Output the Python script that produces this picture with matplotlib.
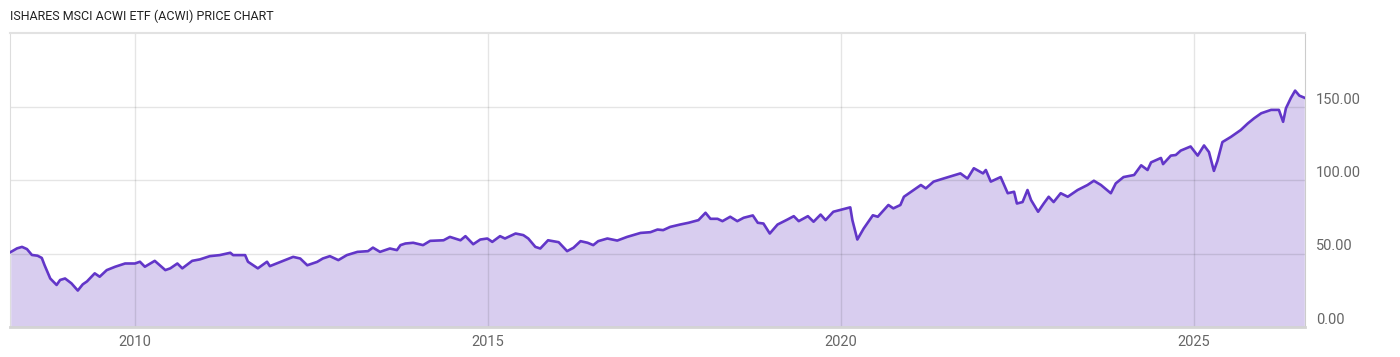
import matplotlib.pyplot as plt

# ACWI price (fractional year, price)
dates = [
    2008.24, 2008.33, 2008.40, 2008.47, 2008.54, 2008.62, 2008.68, 2008.72, 2008.80, 2008.84,
    2008.89, 2008.94, 2009.01, 2009.10, 2009.19, 2009.26, 2009.32, 2009.43, 2009.50, 2009.60,
    2009.72, 2009.86, 2010.00, 2010.07, 2010.14, 2010.28, 2010.43, 2010.50, 2010.60, 2010.67,
    2010.81, 2010.92, 2011.06, 2011.20, 2011.35, 2011.39, 2011.56, 2011.60, 2011.74, 2011.87,
    2011.91, 2012.06, 2012.24, 2012.34, 2012.44, 2012.58, 2012.66, 2012.76, 2012.88, 2013.00,
    2013.15, 2013.30, 2013.37, 2013.47, 2013.61, 2013.71, 2013.76, 2013.83, 2013.94, 2014.08,
    2014.18, 2014.37, 2014.46, 2014.61, 2014.68, 2014.79, 2014.89, 2014.99, 2015.06, 2015.17,
    2015.24, 2015.39, 2015.50, 2015.57, 2015.67, 2015.74, 2015.85, 2015.92, 2016.00, 2016.12,
    2016.21, 2016.31, 2016.41, 2016.49, 2016.56, 2016.69, 2016.83, 2016.97, 2017.16, 2017.30,
    2017.40, 2017.48, 2017.58, 2017.72, 2017.84, 2017.98, 2018.08, 2018.15, 2018.25, 2018.32,
    2018.43, 2018.53, 2018.62, 2018.75, 2018.82, 2018.90, 2018.99, 2019.10, 2019.24, 2019.33,
    2019.40, 2019.53, 2019.61, 2019.71, 2019.78, 2019.89, 2020.13, 2020.16, 2020.23, 2020.32,
    2020.45, 2020.52, 2020.67, 2020.74, 2020.84, 2020.89, 2021.13, 2021.20, 2021.31, 2021.45,
    2021.69, 2021.79, 2021.88, 2022.01, 2022.05, 2022.12, 2022.26, 2022.36, 2022.45, 2022.49,
    2022.57, 2022.64, 2022.69, 2022.79, 2022.87, 2022.94, 2023.01, 2023.11, 2023.21, 2023.35,
    2023.49, 2023.58, 2023.68, 2023.82, 2023.89, 2024.00, 2024.15, 2024.25, 2024.34, 2024.39,
    2024.53, 2024.56, 2024.67, 2024.74, 2024.81, 2024.95, 2025.05, 2025.14, 2025.21, 2025.28,
    2025.33, 2025.40, 2025.52, 2025.66, 2025.76, 2025.85, 2025.95, 2026.09, 2026.20, 2026.26,
    2026.30, 2026.37, 2026.43, 2026.49, 2026.56,
]
prices = [
    51.0, 53.5, 54.5, 53.0, 49.0, 48.5, 47.0, 42.0, 33.0, 31.0,
    28.6, 32.0, 33.0, 29.7, 24.8, 29.0, 31.0, 36.5, 34.2, 38.7,
    41.0, 43.2, 43.2, 44.4, 41.0, 45.0, 38.7, 39.9, 43.2, 39.9,
    45.0, 46.0, 48.2, 48.9, 50.5, 48.9, 48.9, 44.4, 39.9, 44.4,
    41.4, 44.3, 47.7, 46.6, 42.0, 44.3, 46.6, 48.2, 45.5, 48.9,
    51.1, 51.6, 54.0, 51.1, 53.4, 52.3, 55.7, 56.8, 57.3, 55.7,
    58.6, 59.0, 61.3, 59.0, 61.8, 56.3, 59.5, 60.2, 57.9, 61.8,
    60.2, 63.6, 62.5, 60.2, 54.5, 53.4, 59.0, 58.4, 57.7, 51.6,
    53.9, 58.4, 57.3, 55.7, 58.4, 60.2, 58.8, 61.3, 64.0, 64.5,
    66.3, 65.9, 68.1, 69.7, 70.9, 72.7, 77.7, 73.6, 73.6, 72.0,
    75.0, 72.0, 74.3, 75.9, 70.9, 70.4, 63.6, 69.7, 73.1, 75.4,
    72.0, 75.4, 71.6, 76.5, 72.7, 78.4, 81.4, 72.7, 59.5, 67.0,
    76.0, 75.0, 83.0, 80.7, 83.0, 88.6, 96.6, 94.3, 98.9, 101.0,
    104.5, 101.0, 108.0, 104.5, 106.8, 98.9, 102.0, 91.0, 92.0, 84.0,
    85.0, 93.2, 86.4, 78.4, 84.0, 88.6, 85.0, 91.0, 88.6, 93.2,
    96.6, 99.5, 96.6, 91.0, 97.7, 102.0, 103.4, 110.0, 106.8, 112.0,
    115.0, 110.8, 116.6, 117.0, 120.0, 122.8, 116.6, 123.5, 119.0, 106.2,
    113.0, 125.8, 129.3, 134.0, 138.5, 142.0, 145.4, 147.7, 147.7, 139.6,
    148.8, 155.8, 160.8, 157.4, 156.0,
]
year_ticks = [2010, 2015, 2020, 2025]
price_ticks = [0, 50, 100, 150]

plt.rcParams['font.family'] = ['Roboto', 'DejaVu Sans']

fig = plt.figure(figsize=(14, 3.57), dpi=100)
ax = fig.add_axes([10 / 1400, 30 / 357, 1295 / 1400, 294 / 357])

line_color = '#6236c8'
fill_color = '#d8cdef'

ax.fill_between(dates, prices, 0, color=fill_color, lw=0, zorder=1)
ax.plot(dates, prices, color=line_color, lw=1.9, zorder=3, solid_joinstyle='round')

ax.set_xlim(2008.23, 2026.57)
ax.set_ylim(0, 200)

ax.set_xticks(year_ticks)
ax.set_xticklabels([str(y) for y in year_ticks])
ax.set_yticks(price_ticks)
ax.grid(True, color='black', alpha=0.1, lw=1)
for gl in ax.get_xgridlines() + ax.get_ygridlines():
    gl.set_zorder(2)

ax.tick_params(axis='x', length=0, pad=6, labelsize=10.5, labelcolor='#666666')
ax.tick_params(axis='y', length=0, left=False, labelleft=False,
               right=False, labelright=True, pad=8, labelsize=10.5, labelcolor='#666666')
ax.set_yticklabels(['%.2f' % v for v in price_ticks])
for lbl in ax.get_yticklabels():
    lbl.set_verticalalignment('bottom')

ax.spines['top'].set_color('#e2e2e2')
ax.spines['top'].set_linewidth(1.5)
ax.spines['left'].set_color('#dddddd')
ax.spines['right'].set_color('#cccccc')
ax.spines['bottom'].set_color('#d4d4d4')
ax.spines['bottom'].set_linewidth(2)

fig.text(10 / 1400, 1 - 16 / 357, 'ISHARES MSCI ACWI ETF (ACWI) PRICE CHART',
         fontsize=9, color='#222222', va='center', ha='left')

fig.savefig('out.png', dpi=100)
